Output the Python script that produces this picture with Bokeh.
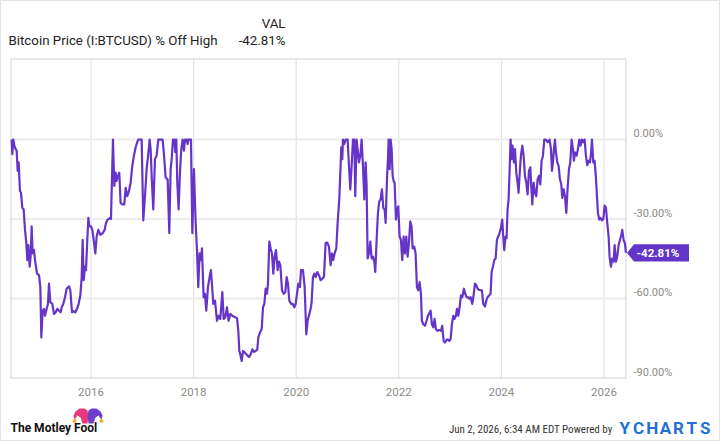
from bokeh.plotting import figure
from bokeh.models import Range1d
from bokeh.embed import file_html
from bokeh.resources import INLINE
from bokeh.core.properties import value

# ---------------- data (decimal years, % off high) ----------------
dates_2014_2016 = [
    2014.453, 2014.466, 2014.485, 2014.505, 2014.531, 2014.550, 2014.570, 2014.589, 2014.615, 2014.635,
    2014.661, 2014.687, 2014.713, 2014.739, 2014.758, 2014.778, 2014.804, 2014.823, 2014.843, 2014.862,
    2014.888, 2014.908, 2014.947, 2014.986, 2015.012, 2015.031, 2015.057, 2015.083, 2015.103, 2015.135,
    2015.161, 2015.181, 2015.207, 2015.246, 2015.278, 2015.311, 2015.343, 2015.376, 2015.408, 2015.428,
    2015.460, 2015.493, 2015.525, 2015.571, 2015.597, 2015.629, 2015.662, 2015.694, 2015.727, 2015.759,
    2015.792, 2015.818, 2015.837, 2015.857, 2015.883, 2015.902, 2015.922, 2015.948, 2015.967, 2016.000,
    2016.026, 2016.052, 2016.084, 2016.110, 2016.142, 2016.182, 2016.227, 2016.266, 2016.292, 2016.324,
    2016.370,
]
values_2014_2016 = [
    0.0, -5.5, 0.0, -2.3, -3.6, -4.2, -11.8, -8.6, -19.4, -20.1,
    -25.8, -26.4, -34.1, -39.1, -45.5, -39.8, -48.0, -44.2, -32.8, -43.0,
    -41.7, -45.5, -50.6, -51.2, -55.7, -74.7, -64.6, -63.9, -66.5, -63.9,
    -62.0, -54.4, -61.4, -62.0, -65.8, -65.2, -63.9, -64.6, -65.2, -63.3,
    -62.0, -59.5, -56.3, -55.4, -56.9, -65.2, -64.8, -65.2, -63.9, -62.0,
    -58.8, -51.9, -37.9, -53.1, -48.0, -49.3, -40.4, -29.6, -32.8, -32.8,
    -34.1, -37.9, -43.0, -36.6, -34.1, -36.0, -35.3, -34.1, -31.5, -30.2,
    -29.6,
]

dates_2016_2018 = [
    2016.389, 2016.428, 2016.454, 2016.480, 2016.499, 2016.525, 2016.551, 2016.577, 2016.610, 2016.649,
    2016.675, 2016.707, 2016.740, 2016.772, 2016.805, 2016.837, 2016.870, 2016.902, 2016.922, 2016.987,
    2017.019, 2017.052, 2017.084, 2017.110, 2017.143, 2017.162, 2017.188, 2017.214, 2017.247, 2017.279,
    2017.312, 2017.396, 2017.422, 2017.455, 2017.494, 2017.526, 2017.552, 2017.572, 2017.598, 2017.624,
    2017.643, 2017.663, 2017.682, 2017.708, 2017.734, 2017.760, 2017.786, 2017.812, 2017.832, 2017.864,
    2017.884, 2017.897, 2017.949, 2017.975, 2018.007, 2018.040, 2018.066, 2018.091, 2018.117, 2018.143,
    2018.163, 2018.195, 2018.221, 2018.247, 2018.280, 2018.312, 2018.338, 2018.371,
]
values_2016_2018 = [
    -30.0, 0.0, -17.5, -12.5, -15.6, -13.7, -12.5, -23.9, -24.5, -24.5,
    -18.2, -21.4, -19.4, -16.3, -9.9, -6.1, -2.9, -1.0, 0.0, 0.0,
    -30.5, -21.4, -11.2, -6.7, 0.0, -3.6, -16.3, -26.4, -7.4, -6.1,
    0.0, 0.0, -5.5, -14.4, -15.0, -35.3, -11.2, -7.4, 0.0, 0.0,
    -4.8, 0.0, -16.3, -26.4, -12.5, -3.6, 0.0, -4.2, 0.0, 0.0,
    -1.7, 0.0, 0.0, -35.3, -11.2, -31.5, -41.7, -55.7, -43.0, -45.5,
    -41.1, -59.5, -58.2, -64.6, -55.7, -51.9, -49.3, -58.2,
]

dates_2018_2020 = [
    2018.384, 2018.417, 2018.456, 2018.488, 2018.521, 2018.560, 2018.586, 2018.618, 2018.651, 2018.683,
    2018.716, 2018.755, 2018.794, 2018.846, 2018.872, 2018.891, 2018.911, 2018.937, 2018.963, 2019.002,
    2019.041, 2019.080, 2019.112, 2019.145, 2019.177, 2019.210, 2019.242, 2019.262, 2019.294, 2019.327,
    2019.353, 2019.379, 2019.405, 2019.431, 2019.450, 2019.476, 2019.502, 2019.528, 2019.554, 2019.580,
    2019.606, 2019.639, 2019.665, 2019.691, 2019.723, 2019.756, 2019.788, 2019.814, 2019.840, 2019.866,
    2019.899, 2019.931, 2019.964, 2019.990, 2020.016, 2020.041, 2020.074, 2020.093, 2020.132, 2020.165,
    2020.197, 2020.223, 2020.256, 2020.288,
]
values_2018_2020 = [
    -62.0, -60.8, -68.4, -66.5, -67.7, -57.6, -67.7, -67.1, -63.3, -68.4,
    -65.8, -66.5, -66.9, -67.4, -72.2, -79.8, -81.1, -83.6, -79.8, -80.5,
    -81.3, -82.1, -81.1, -79.2, -80.1, -79.8, -79.2, -74.7, -72.8, -71.6,
    -63.3, -62.0, -56.3, -58.2, -54.4, -38.5, -41.1, -43.0, -50.6, -44.2,
    -41.7, -49.3, -46.1, -47.4, -56.9, -58.2, -57.6, -51.9, -54.4, -60.8,
    -62.0, -62.0, -63.3, -62.0, -58.2, -54.4, -55.7, -49.3, -49.3, -55.7,
    -73.5, -68.4, -65.8, -63.3,
]

dates_2020_2022 = [
    2020.301, 2020.327, 2020.353, 2020.379, 2020.411, 2020.444, 2020.476, 2020.509, 2020.541, 2020.574,
    2020.606, 2020.639, 2020.671, 2020.697, 2020.723, 2020.749, 2020.782, 2020.808, 2020.840, 2020.866,
    2020.879, 2020.899, 2020.912, 2020.938, 2020.964, 2021.003, 2021.029, 2021.055, 2021.081, 2021.107,
    2021.133, 2021.152, 2021.178, 2021.204, 2021.224, 2021.250, 2021.276, 2021.302, 2021.328, 2021.354,
    2021.373, 2021.393, 2021.419, 2021.445, 2021.471, 2021.497, 2021.523, 2021.542, 2021.568, 2021.594,
    2021.620, 2021.646, 2021.672, 2021.698, 2021.724, 2021.744, 2021.770, 2021.789, 2021.802, 2021.822,
    2021.841, 2021.861, 2021.880, 2021.899, 2021.919, 2021.945, 2021.971, 2021.990, 2022.016, 2022.042,
    2022.068, 2022.094, 2022.120, 2022.146, 2022.172, 2022.198, 2022.224, 2022.250, 2022.270,
]
values_2020_2022 = [
    -61.4, -51.9, -50.6, -51.9, -50.0, -51.2, -53.1, -52.5, -51.9, -39.1,
    -38.9, -40.4, -47.4, -43.0, -45.5, -43.0, -41.1, -31.5, -22.6, -9.9,
    -2.9, -7.4, 0.0, -1.7, 0.0, 0.0, -9.9, -18.8, -9.9, 0.0,
    0.0, -21.4, 0.0, -4.8, -8.6, -6.1, 0.0, -9.9, -22.6, -8.6,
    -17.5, -44.9, -43.0, -38.5, -44.9, -44.2, -46.1, -50.0, -37.9, -27.7,
    -23.3, -22.6, -18.8, -25.8, -26.4, -31.5, -15.0, -7.4, 0.0, -11.2,
    0.0, -3.6, -13.7, -15.6, -16.3, -30.2, -26.4, -25.2, -36.6, -37.9,
    -45.5, -36.6, -43.0, -36.6, -44.2, -39.1, -30.9, -32.8, -41.1,
]

dates_2022_2024 = [
    2022.302, 2022.328, 2022.354, 2022.380, 2022.406, 2022.432, 2022.451, 2022.477, 2022.510, 2022.542,
    2022.568, 2022.594, 2022.620, 2022.646, 2022.672, 2022.698, 2022.724, 2022.757, 2022.789, 2022.822,
    2022.848, 2022.874, 2022.900, 2022.926, 2022.952, 2022.984, 2023.010, 2023.036, 2023.062, 2023.088,
    2023.114, 2023.134, 2023.160, 2023.186, 2023.212, 2023.238, 2023.270, 2023.296, 2023.322, 2023.348,
    2023.374, 2023.400, 2023.433, 2023.459, 2023.485, 2023.511, 2023.537, 2023.563, 2023.595, 2023.621,
    2023.647, 2023.680, 2023.706, 2023.732, 2023.764, 2023.790, 2023.810, 2023.836, 2023.862, 2023.888,
    2023.913, 2023.939, 2023.965, 2023.991, 2024.017, 2024.037, 2024.056, 2024.082, 2024.102, 2024.121,
    2024.141, 2024.160, 2024.180,
]
values_2022_2024 = [
    -40.4, -43.0, -55.7, -56.9, -53.8, -58.2, -68.4, -69.7, -70.3, -68.4,
    -66.5, -65.6, -64.6, -69.7, -70.9, -67.7, -71.6, -72.2, -71.9, -72.2,
    -70.3, -76.0, -76.6, -75.8, -75.4, -76.0, -75.4, -69.7, -66.5, -67.7,
    -66.5, -63.9, -66.5, -63.3, -58.8, -59.5, -56.3, -58.2, -59.5, -59.5,
    -60.1, -59.5, -62.0, -58.8, -54.4, -55.0, -56.3, -56.7, -56.9, -56.9,
    -62.0, -63.0, -60.8, -59.5, -58.8, -58.2, -50.0, -48.0, -45.5, -44.9,
    -37.9, -36.6, -35.3, -33.4, -30.2, -36.6, -41.7, -36.6, -37.2, -26.4,
    -22.6, -12.5, 0.0,
]

dates_2024_2026 = [
    2024.200, 2024.219, 2024.245, 2024.265, 2024.291, 2024.317, 2024.336, 2024.362, 2024.382, 2024.408,
    2024.434, 2024.460, 2024.486, 2024.512, 2024.538, 2024.564, 2024.583, 2024.603, 2024.629, 2024.655,
    2024.681, 2024.707, 2024.733, 2024.759, 2024.785, 2024.811, 2024.837, 2024.869, 2024.902, 2024.941,
    2024.967, 2024.986, 2025.006, 2025.025, 2025.045, 2025.064, 2025.090, 2025.116, 2025.142, 2025.168,
    2025.188, 2025.214, 2025.240, 2025.266, 2025.292, 2025.318, 2025.344, 2025.370, 2025.396, 2025.415,
    2025.435, 2025.467, 2025.493, 2025.519, 2025.545, 2025.571, 2025.597, 2025.623, 2025.649, 2025.675,
    2025.701, 2025.727, 2025.747, 2025.766, 2025.792, 2025.818, 2025.844, 2025.864, 2025.883, 2025.909,
    2025.935, 2025.961, 2025.987, 2026.013, 2026.039, 2026.065, 2026.091, 2026.110, 2026.136, 2026.162,
    2026.188, 2026.208, 2026.234, 2026.260, 2026.286, 2026.312, 2026.338, 2026.357, 2026.383, 2026.409,
    2026.428,
]
values_2024_2026 = [
    -7.4, -2.3, -8.6, -3.6, -12.5, -16.3, -20.1, -11.2, -6.1, -2.3,
    -6.1, -13.7, -16.3, -20.7, -11.8, -10.5, -17.5, -24.5, -16.3, -20.1,
    -21.4, -15.0, -13.7, -16.9, -8.0, -6.1, 0.0, 0.0, -1.0, 0.0,
    -3.6, -11.8, -8.6, -3.6, 0.0, -4.8, -8.6, -9.9, -15.0, -16.9,
    -22.0, -18.8, -21.4, -27.7, -18.2, -11.2, -8.6, 0.0, -3.6, -8.0,
    -4.8, -6.1, -3.6, 0.0, -2.3, 0.0, -1.0, 0.0, -6.1, -9.7,
    -8.0, -8.6, -5.5, 0.0, -8.6, -8.0, -14.4, -21.4, -27.7, -30.2,
    -29.6, -30.5, -30.0, -24.9, -25.8, -31.5, -36.6, -44.2, -48.0, -44.9,
    -46.1, -39.8, -46.1, -44.2, -39.8, -37.9, -36.0, -34.1, -37.9, -39.1,
    -42.81,
]

year_ticks = [2016, 2018, 2020, 2022, 2024, 2026]
pct_ticks = [-90, -60, -30, 0]

series_name = "Bitcoin Price (I:BTCUSD) % Off High"
column_header = "VAL"
timestamp = "Jun 2, 2026, 6:34 AM EDT"

dates = (dates_2014_2016 + dates_2016_2018 + dates_2018_2020 + dates_2020_2022
         + dates_2022_2024 + dates_2024_2026)
values = (values_2014_2016 + values_2016_2018 + values_2018_2020 + values_2020_2022
          + values_2022_2024 + values_2024_2026)
last_val = values[-1]
last_label = f"{last_val:.2f}%"

# ---------------- layout / styles ----------------
W, H = 720, 441
X0, X1 = 2014.44, 2026.43          # visible date span of the plot area
Y0, Y1 = -90.0, 30.4               # visible value span of the plot area
PX_L, PX_R, PX_T, PX_B = 10.5, 625.5, 58.5, 377.5   # plot area in page pixels
PURPLE = "#6535c9"
FONT = "Roboto"
AXIS_TXT = "#8e8a86"

sx = (X1 - X0) / (PX_R - PX_L)
sy = (Y1 - Y0) / (PX_B - PX_T)

p = figure(width=W, height=H,
           x_range=Range1d(X0 - PX_L * sx, X1 + (W - PX_R) * sx),
           y_range=Range1d(Y0 - (H - PX_B) * sy, Y1 + PX_T * sy),
           output_backend="svg", toolbar_location=None,
           x_axis_location=None, y_axis_location=None, min_border=0)
p.extra_x_ranges = {"px": Range1d(0, W)}
p.extra_y_ranges = {"px": Range1d(H, 0)}
p.grid.visible = False
p.outline_line_color = "#e4e4e4"
p.background_fill_color = "white"
p.border_fill_color = "white"

# grid lines
p.segment(x0=year_ticks, x1=year_ticks, y0=[PX_T] * len(year_ticks), y1=[PX_B] * len(year_ticks),
          y_range_name="px", line_color="#dedede", line_width=1)
h_ticks = [t for t in pct_ticks if t > Y0]
p.segment(x0=[PX_L] * len(h_ticks), x1=[PX_R] * len(h_ticks), y0=h_ticks, y1=h_ticks,
          x_range_name="px", line_color="#ececec", line_width=2)
# plot-area border
p.quad(left=[PX_L], right=[PX_R], top=[PX_T], bottom=[PX_B], fill_color=None,
       line_color="#d2d2d2", line_width=1, x_range_name="px", y_range_name="px")

# series
p.line(x=dates, y=values, line_color=PURPLE, line_width=2.2, line_join="round")

# axis labels
p.text(x=year_ticks, y=[391] * len(year_ticks), text=[str(t) for t in year_ticks],
       y_range_name="px", text_font=value(FONT), text_font_size="11.5px", text_color=AXIS_TXT,
       text_align="center", text_baseline="middle")
p.text(x=[633] * len(pct_ticks), y=pct_ticks, text=[f"{t:.2f}%" for t in pct_ticks],
       x_range_name="px", y_offset=-6, text_font=value(FONT), text_font_size="11px",
       text_color=AXIS_TXT, text_align="left", text_baseline="middle")

# last-value tag
hh = 8.6 * sy
p.patch(x=[626.5, 633.5, 688.5, 688.5, 633.5],
        y=[last_val, last_val + hh, last_val + hh, last_val - hh, last_val - hh],
        x_range_name="px", fill_color=PURPLE, line_color=None)
p.text(x=[636], y=[last_val], text=[last_label], x_range_name="px",
       text_font=value(FONT), text_font_size="11.5px", text_font_style="bold",
       text_color="white", text_align="left", text_baseline="middle")

# header
p.text(x=[285], y=[23], text=[column_header], x_range_name="px", y_range_name="px",
       text_font=value(FONT), text_font_size="13.3px", text_align="right",
       text_baseline="middle", text_color="#222222")
p.text(x=[8], y=[40], text=[series_name], x_range_name="px", y_range_name="px",
       text_font=value(FONT), text_font_size="13.3px", text_align="left",
       text_baseline="middle", text_color="#222222")
p.text(x=[285], y=[40], text=[last_label], x_range_name="px", y_range_name="px",
       text_font=value(FONT), text_font_size="13.3px", text_align="right",
       text_baseline="middle", text_color="#222222")

# footer: Motley Fool logo
pink_x = [74, 73, 75, 79, 84, 87, 88, 87, 82, 80, 77, 75]
pink_y = [419, 415, 411, 408, 408, 410, 416, 423, 423, 417, 415, 418]
purp_x = [175 - v for v in pink_x]
p.patch(pink_x, pink_y, fill_color="#e63a7f", line_color=None, x_range_name="px", y_range_name="px")
p.patch(purp_x, pink_y, fill_color="#6a3fc9", line_color=None, x_range_name="px", y_range_name="px")
p.scatter([74, 101], [420.5, 420.5], size=4, fill_color="#f2b134", line_color=None,
          x_range_name="px", y_range_name="px")
p.text(x=[10], y=[427.5], text=["The Motley Fool"], x_range_name="px", y_range_name="px",
       text_font=value(FONT), text_font_size="12px", text_font_style="bold",
       text_align="left", text_baseline="middle", text_color="#111111")

# footer: timestamp + YCharts
p.text(x=[612], y=[428.5], text=[timestamp + " Powered by"], x_range_name="px", y_range_name="px",
       text_font=value("'Liberation Sans Narrow', 'Roboto Condensed', Roboto"), text_font_size="11px",
       text_align="right", text_baseline="middle", text_color="#333333")
yc_letters = list("YCHARTS")
p.text(x=[619 + 13.4 * i for i in range(len(yc_letters))], y=[427.5] * len(yc_letters),
       text=yc_letters, x_range_name="px", y_range_name="px",
       text_font=value(FONT), text_font_size="17px", text_font_style="bold",
       text_align="left", text_baseline="middle", text_color="#1f6fd6")

open("out.html", "w").write(file_html(p, INLINE))
